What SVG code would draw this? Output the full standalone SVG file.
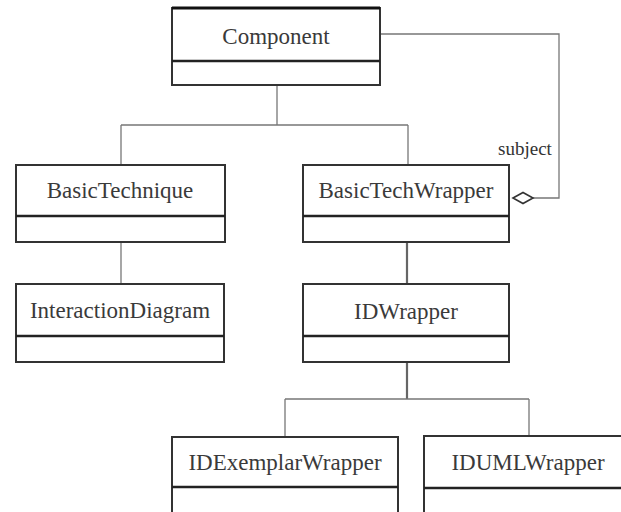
<svg xmlns="http://www.w3.org/2000/svg" width="621" height="512" viewBox="0 0 621 512">
  <style>
    .box { fill: #ffffff; stroke: #333333; stroke-width: 2; }
    .div { stroke: #222222; stroke-width: 2.5; }
    .conn { fill: none; stroke: #777777; stroke-width: 1.3; }
    .conn2 { fill: none; stroke: #666666; stroke-width: 2.2; }
  </style>
  <rect width="621" height="512" fill="#ffffff"/>

  <g id="connectors">
    <!-- generalisation tree under Component -->
    <path class="conn" d="M277 85 V125 M121 125 H408 M121 125 V165 M408 125 V165"/>
    <path class="conn" d="M121 242 V284"/>
    <path class="conn2" d="M407 242 V284 M407 362 V399"/>
    <path class="conn" d="M285 399 H529 M285 399 V437 M529 399 V436"/>
    <!-- aggregation: subject -->
    <path class="conn" d="M380 34 H559 V198 H533"/>
    <polygon points="513,198 523,192.5 533,198 523,203.5" fill="#ffffff" stroke="#333333" stroke-width="1.6"/>
    <text x="525" y="155" font-family="'Liberation Serif', 'DejaVu Serif', serif" font-size="19" fill="#333333" text-anchor="middle">subject</text>
  </g>

  <g font-family="'Liberation Serif', 'DejaVu Serif', serif" font-size="23" fill="#3a3a3a" text-anchor="middle">
    <g id="component">
      <rect class="box" x="172" y="8" width="208" height="77"/>
      <line x1="172" y1="8" x2="380" y2="8" stroke="#111" stroke-width="3"/>
      <line class="div" x1="172" y1="61" x2="380" y2="61"/>
      <text x="276" y="44">Component</text>
    </g>

    <g id="basic-technique">
      <rect class="box" x="16" y="165" width="209" height="77"/>
      <line class="div" x1="16" y1="216" x2="225" y2="216"/>
      <text x="120" y="198">BasicTechnique</text>
    </g>

    <g id="basic-tech-wrapper">
      <rect class="box" x="303" y="165" width="206" height="77"/>
      <line class="div" x1="303" y1="216" x2="509" y2="216"/>
      <text x="406" y="198">BasicTechWrapper</text>
    </g>

    <g id="interaction-diagram">
      <rect class="box" x="16" y="284" width="208" height="78"/>
      <line class="div" x1="16" y1="336" x2="224" y2="336"/>
      <text x="120" y="318">InteractionDiagram</text>
    </g>

    <g id="id-wrapper">
      <rect class="box" x="303" y="284" width="206" height="78"/>
      <line class="div" x1="303" y1="336" x2="509" y2="336"/>
      <text x="406" y="319">IDWrapper</text>
    </g>

    <g id="id-exemplar-wrapper">
      <rect class="box" x="172" y="437" width="226" height="85"/>
      <line class="div" x1="172" y1="487" x2="398" y2="487"/>
      <text x="285" y="470">IDExemplarWrapper</text>
    </g>

    <g id="id-uml-wrapper">
      <rect class="box" x="424" y="436" width="210" height="86"/>
      <line class="div" x1="424" y1="488" x2="634" y2="488"/>
      <text x="528" y="470">IDUMLWrapper</text>
    </g>
  </g>
</svg>
